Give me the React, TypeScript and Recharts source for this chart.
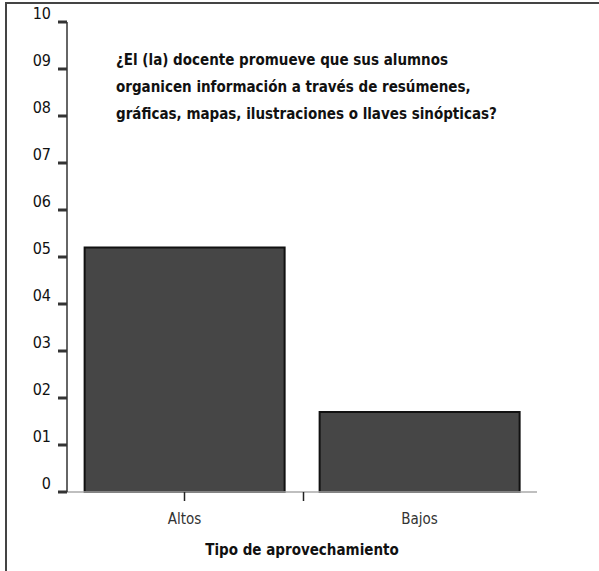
import { BarChart, Bar, XAxis, YAxis, Label } from "recharts"

const categories = ["Altos", "Bajos"]
const values = [5.2, 1.7]
const yTicks = [0, 1, 2, 3, 4, 5, 6, 7, 8, 9, 10]
const titleLines = [
  "¿El (la) docente promueve que sus alumnos",
  "organicen información a través de resúmenes,",
  "gráficas, mapas, ilustraciones o llaves sinópticas?",
]

const data = categories.map((name, i) => ({ name, value: values[i] }))

const FONT = "'Liberation Sans Narrow', 'Arial Narrow', 'DejaVu Sans Condensed', sans-serif"

const fmtY = (v: number) => (v === 0 ? "0" : String(v).padStart(2, "0"))

function YTick(props: any) {
  const { y, payload } = props
  return (
    <g>
      <line x1={58} x2={67} y1={y} y2={y} stroke="#333" strokeWidth={3} />
      <text x={51} y={y - 3} textAnchor="end" fontSize={16} fill="#111" fontFamily={FONT}>
        {fmtY(payload.value)}
      </text>
    </g>
  )
}

function XTick(props: any) {
  const { x, y, payload, index } = props
  // first category gets a mark at its centre, second one at the band edge
  const mx = index === 0 ? x : x - 116
  return (
    <g>
      <line x1={mx} x2={mx} y1={y - 8} y2={y + 1} stroke="#222" strokeWidth={1.5} />
      <text x={x} y={y + 24} textAnchor="middle" fontSize={15} fill="#333" fontFamily={FONT}>
        {payload.value}
      </text>
    </g>
  )
}

export default function App() {
  return (
    <div style={{ position: "absolute", left: 0, top: 0, width: 599, height: 571, overflow: "hidden", background: "#fff" }}>
      <div
        style={{
          position: "absolute",
          left: 5,
          top: 2,
          width: 700,
          height: 700,
          borderTop: "2px solid #444",
          borderLeft: "2px solid #444",
        }}
      />
      <BarChart
        width={599}
        height={571}
        data={data}
        margin={{ top: 22, right: 62, bottom: 0, left: 0 }}
        barCategoryGap="7.5%"
        style={{ position: "absolute", left: 0, top: 0 }}
      >
        <XAxis
          dataKey="name"
          stroke="#aaa"
          strokeWidth={1.5}
          tickLine={false}
          tick={<XTick />}
          height={79}
        >
          <Label
            value="Tipo de aprovechamiento"
            position="insideBottom"
            offset={16}
            style={{ fontFamily: FONT, fontSize: 15, fontWeight: "bold", fill: "#111" }}
          />
        </XAxis>
        <YAxis
          domain={[0, 10]}
          ticks={yTicks}
          width={67}
          stroke="#333"
          strokeWidth={1.5}
          tickLine={false}
          tick={<YTick />}
          interval={0}
        />
        <Bar dataKey="value" fill="#464646" stroke="#111" strokeWidth={2} isAnimationActive={false} />
        <text x={116} y={0} fontFamily={FONT} fontSize={15} fontWeight="bold" fill="#111">
          {titleLines.map((line, i) => (
            <tspan key={i} x={116} y={65 + i * 27}>
              {line}
            </tspan>
          ))}
        </text>
      </BarChart>
    </div>
  )
}
